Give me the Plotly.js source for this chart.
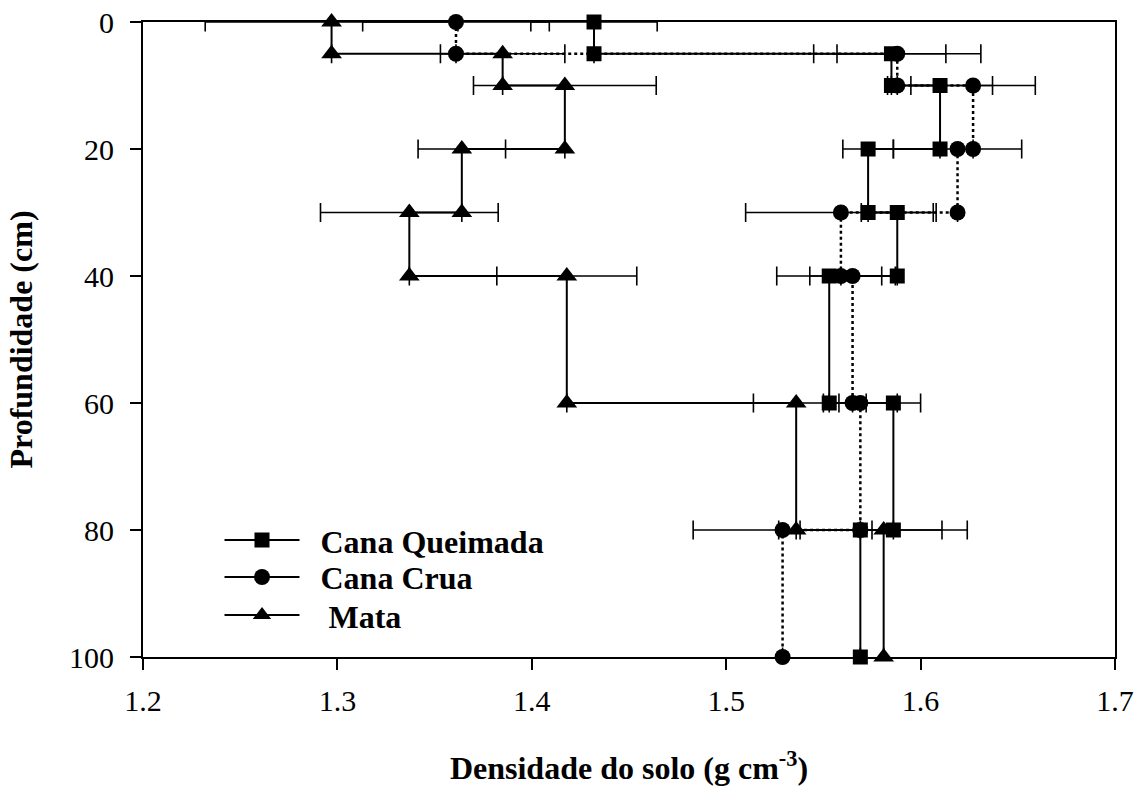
<!DOCTYPE html>
<html>
<head>
<meta charset="utf-8">
<script src="https://cdn.plot.ly/plotly-3.0.1.min.js"></script>
<style>html,body{margin:0;padding:0;background:#fff;} #chart{width:1142px;height:787px;}</style>
</head>
<body>
<div id="chart"></div>
<script>
// Layer boundaries (cm)
const depths = [0, 5, 10, 20, 30, 40, 60, 80, 100];
// Soil density per layer (g cm-3) and standard error
const queimada    = [1.432, 1.585, 1.610, 1.573, 1.588, 1.553, 1.586, 1.569];
const queimadaErr = [0.0325, 0.028, 0.027, 0.013, 0.0185, 0.027, 0.014, 0.042];
const crua        = [1.361, 1.588, 1.627, 1.619, 1.559, 1.565, 1.569, 1.529];
const cruaErr     = [0.048, 0.043, 0.032, 0.033, 0.049, 0.022, 0.019, 0.046];
const mata        = [1.297, 1.385, 1.417, 1.364, 1.337, 1.418, 1.536, 1.581];
const mataErr     = [0.065, 0.032, 0.047, 0.0225, 0.0457, 0.036, 0.022, 0.043];
const seriesNames = ['Cana Queimada', 'Cana Crua', ' Mata'];

function step(vals, errs) {
  const x = [], y = [], e = [];
  for (let i = 0; i < vals.length; i++) {
    x.push(vals[i], vals[i]);
    y.push(depths[i], depths[i + 1]);
    e.push(errs[i], null);
  }
  return {x, y, e};
}

const styles = [
  {sym: 'square', size: 15, dash: 'solid', lw: 2},
  {sym: 'circle', size: 16, dash: 'dot', lw: 2.5},
  {sym: 'triangle-up', size: 18, dash: 'solid', lw: 2}
];
const sets = [[queimada, queimadaErr], [crua, cruaErr], [mata, mataErr]];
const legendIds = ['legend', 'legend2', 'legend3'];

const traces = [];
// draw order: Mata, Crua, Queimada on top
[2, 1, 0].forEach(k => {
  const s = step(sets[k][0], sets[k][1]);
  traces.push({
    type: 'scatter', mode: 'lines+markers', x: s.x, y: s.y,
    showlegend: false, cliponaxis: false, hoverinfo: 'x+y',
    line: {color: 'black', width: styles[k].lw, dash: styles[k].dash},
    marker: {symbol: styles[k].sym, size: styles[k].size, color: 'black', line: {width: 0}},
    error_x: {type: 'data', array: s.e, visible: true, color: 'black', thickness: 1.6, width: 9.5}
  });
});
// legend entries (solid lines), one legend box per row
[0, 1, 2].forEach(k => {
  traces.push({
    type: 'scatter', mode: 'lines+markers', x: [null], y: [null],
    name: '\u00a0\u00a0' + seriesNames[k],
    showlegend: true, legend: legendIds[k],
    line: {color: 'black', width: 2, dash: 'solid'},
    marker: {symbol: styles[k].sym, size: styles[k].size, color: 'black', line: {width: 0}}
  });
});

const serif = 'Liberation Serif, Times New Roman, serif';
function legendBox(y) {
  return {
    x: 0.0787, y: y, xanchor: 'left', yanchor: 'top',
    bgcolor: 'rgba(0,0,0,0)', borderwidth: 0, itemwidth: 75,
    font: {family: serif, size: 32, color: 'black', weight: 'bold'}
  };
}
const layout = {
  width: 1142, height: 787,
  margin: {l: 143, r: 27, t: 22, b: 130},
  paper_bgcolor: 'white', plot_bgcolor: 'white',
  font: {family: serif, size: 30, color: 'black'},
  xaxis: {
    range: [1.2, 1.7], dtick: 0.1, tick0: 1.2, tickformat: '.1f',
    showgrid: false, zeroline: false,
    showline: true, linecolor: 'black', linewidth: 2, mirror: true,
    ticks: 'outside', ticklen: 11, tickwidth: 2, tickcolor: 'black',
    ticklabelstandoff: 5,
    tickfont: {family: serif, size: 30, color: 'black'},
    title: {text: '<b>Densidade do solo (g cm<sup>-3</sup>)</b>', font: {family: serif, size: 32, color: 'black'}, standoff: 41}
  },
  yaxis: {
    range: [100, 0], tickvals: [0, 20, 40, 60, 80, 100],
    showgrid: false, zeroline: false,
    showline: true, linecolor: 'black', linewidth: 2, mirror: true,
    ticks: 'outside', ticklen: 11, tickwidth: 2, tickcolor: 'black',
    ticklabelstandoff: 10,
    tickfont: {family: serif, size: 30, color: 'black'},
    title: {text: '<b>Profundidade (cm)</b>', font: {family: serif, size: 32, color: 'black'}, standoff: 27}
  },
  legend: legendBox(0.2272),
  legend2: legendBox(0.169),
  legend3: legendBox(0.1091),
  showlegend: true
};

Plotly.newPlot('chart', traces, layout, {displayModeBar: false, staticPlot: true});
</script>
</body>
</html>
